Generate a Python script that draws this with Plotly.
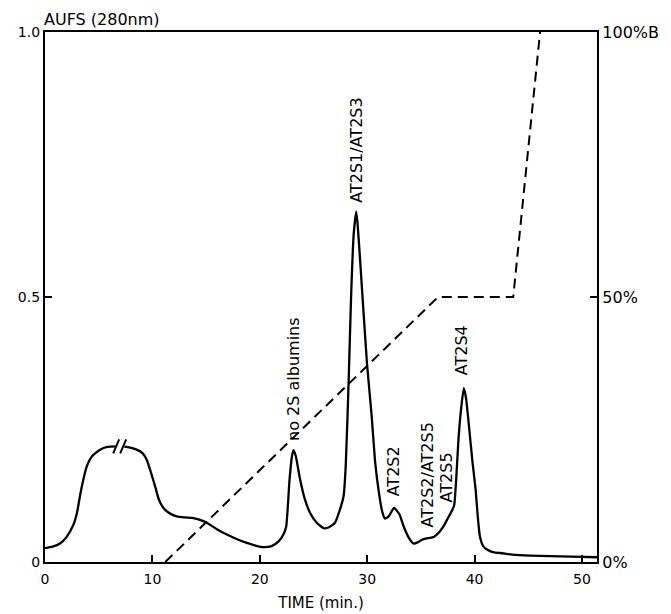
import plotly.graph_objects as go

# Chromatogram trace (time in min, absorbance AUFS at 280 nm)
time_min = [0, 0.7, 1.4, 2.0, 2.64, 3.0, 3.26, 3.6, 3.88, 4.4, 5.13, 5.8, 6.68, 7.0, 7.6, 8.54,
            9.1, 9.47, 9.85, 10.25, 10.6, 11.03, 11.6, 12.27, 13.0, 13.82, 14.5, 15.07, 16.0,
            16.93, 17.9, 18.8, 19.6, 20.35, 21.1, 21.75, 22.2, 22.46, 22.77, 23.0, 23.14, 23.35,
            23.76, 24.2, 24.7, 25.3, 25.94, 26.4, 27.0, 27.4, 27.8, 28.0, 28.27, 28.5, 28.75,
            28.98, 29.1, 29.36, 29.98, 30.4, 30.75, 31.1, 31.4, 31.65, 32.0, 32.5, 33.0, 33.4,
            33.9, 34.3, 34.7, 35.1, 35.7, 36.2, 36.7, 37.1, 37.5, 37.9, 38.1, 38.3, 38.5, 38.75,
            39.0, 39.2, 39.45, 39.8, 40.1, 40.3, 40.5, 40.8, 41.2, 41.8, 42.4, 43.5, 45.2, 47.0,
            49.0, 51.4]
aufs = [0.026, 0.029, 0.035, 0.047, 0.07, 0.095, 0.125, 0.158, 0.18, 0.2, 0.212, 0.217, 0.218,
        0.218, 0.217, 0.212, 0.205, 0.193, 0.17, 0.143, 0.118, 0.102, 0.092, 0.086, 0.084,
        0.083, 0.079, 0.074, 0.062, 0.052, 0.043, 0.036, 0.031, 0.028, 0.03, 0.039, 0.052,
        0.067, 0.155, 0.2, 0.211, 0.2, 0.155, 0.118, 0.092, 0.074, 0.064, 0.065, 0.074,
        0.095, 0.124, 0.18, 0.338, 0.5, 0.62, 0.661, 0.64, 0.564, 0.375, 0.28, 0.187, 0.13,
        0.095, 0.082, 0.086, 0.102, 0.09, 0.067, 0.045, 0.035, 0.037, 0.042, 0.045, 0.047,
        0.056, 0.067, 0.082, 0.097, 0.107, 0.16, 0.231, 0.29, 0.328, 0.31, 0.262, 0.19,
        0.136, 0.085, 0.048, 0.03, 0.023, 0.018, 0.017, 0.014, 0.012, 0.011, 0.01, 0.009]

# Gradient (% solvent B)
grad_time = [11.2, 36.6, 43.6, 46.1]
grad_pct_b = [0, 50, 50, 100]

# Peak labels
peak_labels = ["no 2S albumins", "AT2S1/AT2S3", "AT2S2", "AT2S2/AT2S5", "AT2S5", "AT2S4"]
peak_label_time = [23.2, 29.0, 32.4, 35.6, 37.4, 38.8]
peak_label_aufs = [0.225, 0.674, 0.12, 0.061, 0.108, 0.348]

# Axis ticks
x_ticks = [0, 10, 20, 30, 40, 50]
y_left_ticks = [0, 0.5, 1.0]
y_left_text = ["0", "0.5", "1.0"]
y_right_ticks = [0, 50, 100]
y_right_text = ["0%", "50%", "100%B"]
break_time = 7.0
break_aufs = 0.218

FONT = "DejaVu Sans"

fig = go.Figure()
fig.add_trace(go.Scatter(x=time_min, y=aufs, mode="lines",
                         line=dict(color="black", width=2.3, shape="spline", smoothing=0.5),
                         hoverinfo="skip", showlegend=False))
fig.add_trace(go.Scatter(x=grad_time, y=grad_pct_b, mode="lines", yaxis="y2",
                         line=dict(color="black", width=2, dash="10px,6px"),
                         hoverinfo="skip", showlegend=False))

for txt, xt, yt in zip(peak_labels, peak_label_time, peak_label_aufs):
    fig.add_annotation(x=xt, y=yt, text=txt, textangle=-90, showarrow=False,
                       xanchor="center", yanchor="bottom",
                       font=dict(family=FONT, size=16, color="black"))

# axis-break marks on the first hump
fig.add_shape(type="line", xref="x", yref="y", xsizemode="pixel", ysizemode="pixel",
              xanchor=break_time, yanchor=break_aufs, x0=-3, x1=3, y0=-2, y1=2,
              line=dict(color="white", width=6))
for off in (-4, 3):
    fig.add_shape(type="line", xref="x", yref="y", xsizemode="pixel", ysizemode="pixel",
                  xanchor=break_time, yanchor=break_aufs, x0=off - 3, x1=off + 3, y0=-7, y1=7,
                  line=dict(color="black", width=2))

fig.add_annotation(xref="paper", yref="paper", x=0, y=1, xshift=-3, yshift=1,
                   text="AUFS (280nm)", showarrow=False, xanchor="left", yanchor="bottom",
                   font=dict(family=FONT, size=16, color="black"))

# page body has an 8px default margin, so the figure is sized to fit inside the window
fig.update_layout(
    width=663, height=606,
    margin=dict(l=37, r=74, t=24, b=52, autoexpand=False),
    paper_bgcolor="white", plot_bgcolor="white",
    font=dict(family=FONT, size=14, color="black"),
    xaxis=dict(range=[0, 51.4], tickvals=x_ticks, ticks="inside", ticklen=7, tickwidth=2,
               tickcolor="black", showline=True, linecolor="black", linewidth=2.2,
               mirror=True, showgrid=False, zeroline=False, automargin=False,
               ticklabelstandoff=3,
               title=dict(text="TIME (min.)", font=dict(family=FONT, size=15), standoff=12),
               tickfont=dict(family=FONT, size=14)),
    yaxis=dict(range=[0, 1.0], tickvals=y_left_ticks, ticktext=y_left_text, ticks="inside",
               ticklen=7, tickwidth=2, tickcolor="black", showline=True, linecolor="black",
               linewidth=2.2, showgrid=False, zeroline=False, automargin=False,
               tickfont=dict(family=FONT, size=14)),
    yaxis2=dict(range=[0, 100], overlaying="y", side="right", tickvals=y_right_ticks,
                ticktext=y_right_text, ticks="inside", ticklen=7, tickwidth=2,
                tickcolor="black", showline=True, linecolor="black", linewidth=2.2,
                showgrid=False, zeroline=False, automargin=False,
                tickfont=dict(family=FONT, size=16)),
)

fig.write_html("out.html")
